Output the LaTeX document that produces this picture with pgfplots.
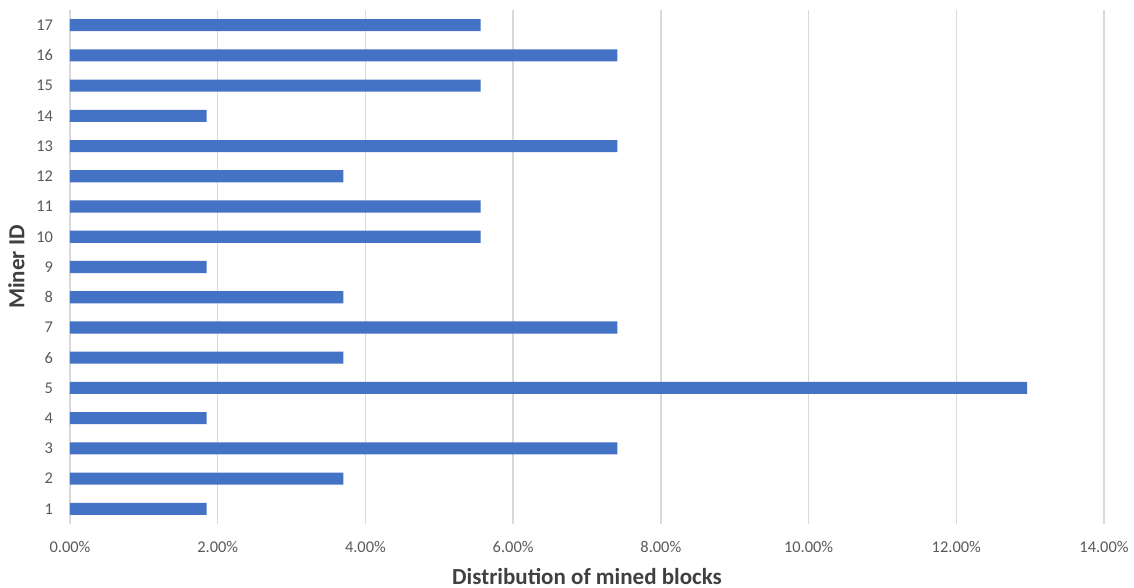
\documentclass[border=0pt]{standalone}
\usepackage{fontspec}
\setmainfont{Carlito}
\usepackage{pgfplots}
\pgfplotsset{compat=1.18}
\definecolor{barblue}{HTML}{4472C4}
\definecolor{ticktext}{HTML}{595959}
\definecolor{labeltext}{HTML}{404040}
\definecolor{gridgray}{HTML}{D9D9D9}
\begin{document}
\begin{tikzpicture}
\begin{axis}[
  at={(0,0)}, anchor=south west,
  scale only axis,
  width=517pt, height=257pt,
  xbar, bar width=0.4,
  xmin=0, xmax=14,
  ymin=0.5, ymax=17.5,
  xtick={0,2,...,14},
  ytick={1,...,17},
  xmajorgrids, grid style={gridgray, line width=0.7pt},
  axis line style={draw=none},
  major tick length=0pt,
  /pgf/number format/assume math mode=true,
  ticklabel style={font=\fontsize{8.2}{10}\selectfont, text=ticktext},
  xticklabel={\pgfmathprintnumber[fixed,fixed zerofill,precision=2]{\tick}\%},
  xticklabel style={yshift=-5pt},
  yticklabel style={xshift=-5pt},
  xlabel={\textbf{Distribution of mined blocks}},
  ylabel={\textbf{Miner ID}},
  label style={font=\fontsize{11.5}{13}\selectfont, text=labeltext},
  xlabel style={yshift=-1pt},
  ylabel style={yshift=-1pt},
]
\addplot[fill=barblue, draw=none] coordinates {
(1.85,1) (3.70,2) (7.41,3) (1.85,4) (12.96,5) (3.70,6) (7.41,7) (3.70,8) (1.85,9)
(5.56,10) (5.56,11) (3.70,12) (7.41,13) (1.85,14) (5.56,15) (7.41,16) (5.56,17)
};
\end{axis}
\pgfresetboundingbox
\path[use as bounding box] (-35pt,-32pt) rectangle (532pt,262pt);
\end{tikzpicture}
\end{document}
